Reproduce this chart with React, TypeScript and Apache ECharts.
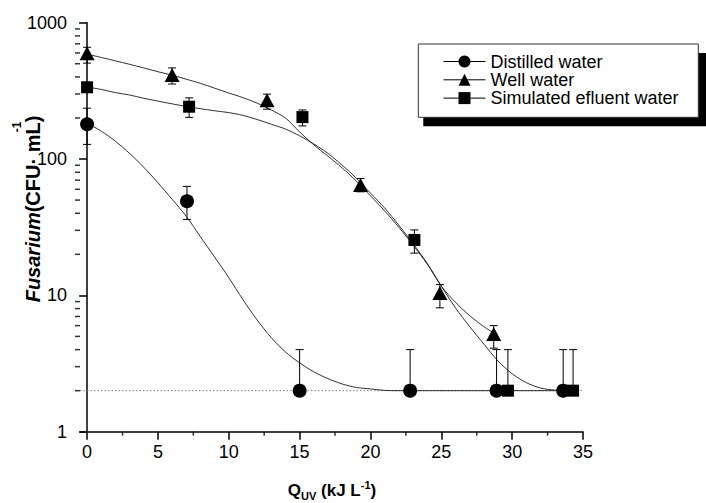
import React, { useEffect, useRef } from "react";
import * as echarts from "echarts";

// ---- measured points ----
const distilledX = [0, 7.05, 15, 22.8, 28.9, 33.6];
const distilledY = [180, 49, 2, 2, 2, 2];
const distilledLow = [128, 36, 2, 2, 2, 2];
const distilledHigh = [236, 63, 4, 4, 4, 4];

const wellX = [0, 6.0, 12.7, 19.3, 24.9, 28.7];
const wellY = [597, 414, 270, 64.6, 10.4, 5.2];
const wellLow = [505, 355, 232, 57.5, 8.1, 4.1];
const wellHigh = [660, 466, 299, 72, 12, 6.0];

const simX = [0, 7.2, 15.2, 23.1, 29.7, 34.3];
const simY = [336, 242, 203, 25.5, 2, 2];
const simLow = [318, 202, 175, 20.4, 2, 2];
const simHigh = [355, 281, 229, 30.2, 4, 4];

// ---- fitted curves ----
const distilledFitX = [0, 1, 2, 3, 4, 5, 6, 7, 8, 9, 10, 11, 12, 13, 14, 15, 16, 17, 18, 19, 20, 21, 22, 33.6];
const distilledFitY = [184, 160, 135, 110, 87, 67, 50.7, 38, 26.9, 19.1, 13.5, 9.3, 6.6, 4.9, 3.85, 3.2, 2.75, 2.45, 2.24, 2.11, 2.06, 2.01, 2.0, 2.0];

const wellFitX = [0, 1, 2, 3, 4, 5, 6, 7, 8, 9, 10, 11, 12, 13, 14, 15, 16, 17, 18, 19, 20, 21, 22, 23, 24, 25, 26, 27, 28, 28.7];
const wellFitY = [589, 556, 525, 495, 466, 437, 412, 385, 359, 331, 305, 282, 257, 229, 200, 158, 127, 105, 86, 69, 53.7, 41.7, 31.6, 23.4, 17, 11.7, 8.9, 7.1, 5.9, 5.3];

const simFitX = [0, 1, 2, 3, 4, 5, 6, 7, 8, 9, 10, 11, 12, 13, 14, 15, 16, 17, 18, 19, 20, 21, 22, 23, 24, 25, 26, 27, 28, 29, 30, 31, 32, 33, 34.3];
const simFitY = [337, 324, 307, 295, 279, 266, 254, 243, 234, 226, 219, 209, 195, 180, 166, 148, 129, 110, 90, 72.4, 56.2, 43.7, 32.7, 24.0, 17.2, 11.7, 8.1, 5.9, 4.4, 3.3, 2.66, 2.29, 2.09, 2.02, 2.0];

const detectionLimit = 2;
const detectionLimitX = [-0.5, 35];

// ---- axes ----
const xMin = -0.5;
const xMax = 35;
const xTicks = [0, 5, 10, 15, 20, 25, 30, 35];
const xMinorTicks = [2.5, 7.5, 12.5, 17.5, 22.5, 27.5, 32.5];
const yMin = 1;
const yMax = 1000;
const yMinorTicks = [2, 3, 4, 5, 6, 7, 8, 9, 20, 30, 40, 50, 60, 70, 80, 90, 200, 300, 400, 500, 600, 700, 800, 900];

const seriesNames = ["Distilled water", "Well water", "Simulated efluent water"];

const FONT = "'Liberation Sans', Arial, Helvetica, sans-serif";

function pairs(xs: number[], ys: number[]) {
  return xs.map((x, i) => [x, ys[i]]);
}

function markerSeries(name: string, xs: number[], ys: number[], symbol: string, size: any) {
  return {
    name,
    type: "line",
    data: pairs(xs, ys),
    symbol,
    symbolSize: size,
    itemStyle: { color: "#000", borderWidth: 0 },
    lineStyle: { width: 0, opacity: 0 },
    z: 5,
    silent: true,
  };
}

function fitSeries(xs: number[], ys: number[]) {
  return {
    type: "line",
    data: pairs(xs, ys),
    symbol: "none",
    smooth: 0.3,
    lineStyle: { color: "#1a1a1a", width: 0.9 },
    z: 2,
    silent: true,
  };
}

function errSeries(xs: number[], ys: number[], lo: number[], hi: number[]) {
  return {
    type: "custom",
    data: xs.map((x, i) => [x, ys[i], lo[i], hi[i]]),
    encode: { x: 0, y: [1, 2, 3] },
    z: 3,
    clip: false,
    silent: true,
    renderItem: (params: any, api: any) => {
      const x = api.value(0);
      const y = api.value(1);
      const l = api.value(2);
      const h = api.value(3);
      const top = api.coord([x, h]);
      const bot = api.coord([x, l]);
      const cap = 4;
      const st = { stroke: "#000", lineWidth: 1 };
      const children: any[] = [
        { type: "line", shape: { x1: top[0], y1: top[1], x2: bot[0], y2: bot[1] }, style: st },
        { type: "line", shape: { x1: top[0] - cap, y1: top[1], x2: top[0] + cap, y2: top[1] }, style: st },
      ];
      if (l < y) {
        children.push({ type: "line", shape: { x1: bot[0] - cap, y1: bot[1], x2: bot[0] + cap, y2: bot[1] }, style: st });
      }
      return { type: "group", children };
    },
  };
}

export default function App() {
  const ref = useRef<HTMLDivElement>(null);

  useEffect(() => {
    if (!ref.current) return;
    const chart = echarts.init(ref.current, undefined, { renderer: "svg" });

    const tickLine = { color: "#000", width: 1.5 };

    const option: any = {
      animation: false,
      backgroundColor: "#fff",
      textStyle: { fontFamily: FONT },
      grid: { left: 80, top: 22.7, width: 503, height: 409, containLabel: false },
      xAxis: {
        type: "value",
        min: xMin,
        max: xMax,
        axisLine: { onZero: false, lineStyle: tickLine },
        axisTick: { customValues: xTicks, length: 8, lineStyle: tickLine },
        axisLabel: { customValues: xTicks, fontSize: 18, color: "#000", margin: 11, fontFamily: FONT },
        splitLine: { show: false },
      },
      yAxis: {
        type: "log",
        logBase: 10,
        min: yMin,
        max: yMax,
        axisLine: { lineStyle: tickLine },
        axisTick: { length: 8, lineStyle: tickLine },
        axisLabel: {
          fontSize: 18,
          color: "#000",
          margin: 13,
          fontFamily: FONT,
          formatter: (v: number) => String(Math.round(v)),
        },
        splitLine: { show: false },
      },
      legend: {
        data: seriesNames,
        orient: "vertical",
        left: 443,
        top: 52.5,
        padding: 0,
        itemGap: 0.3,
        itemWidth: 42,
        itemHeight: 15,
        selectedMode: false,
        textStyle: { fontSize: 18, color: "#000", fontFamily: FONT, lineHeight: 18 },
        lineStyle: { color: "#000", width: 1, opacity: 1, type: "solid" },
        itemStyle: { color: "#000" },
        z: 10,
      },
      graphic: [
        {
          type: "rect",
          z: 8,
          shape: { x: 423.3, y: 53, width: 290, height: 73.3 },
          style: { fill: "#000" },
          silent: true,
        },
        {
          type: "rect",
          z: 9,
          shape: { x: 418.3, y: 44, width: 280, height: 73.3 },
          style: { fill: "#fff", stroke: "#333", lineWidth: 1 },
          silent: true,
        },
        {
          type: "text",
          z: 10,
          x: 33,
          y: 209,
          rotation: Math.PI / 2,
          style: {
            text: "{i|Fusarium}{b|(CFU· mL)}",
            align: "center",
            verticalAlign: "middle",
            fill: "#000",
            rich: {
              i: { fontSize: 20, fontWeight: "bold", fontStyle: "italic", fontFamily: FONT, fill: "#000" },
              b: { fontSize: 20, fontWeight: "bold", fontFamily: FONT, fill: "#000" },
            },
          },
          silent: true,
        },
        {
          type: "text",
          z: 10,
          x: 16.5,
          y: 127,
          rotation: Math.PI / 2,
          style: {
            text: "-1",
            align: "center",
            verticalAlign: "middle",
            fill: "#000",
            fontSize: 12,
            fontWeight: "bold",
            fontFamily: FONT,
          },
          silent: true,
        },
        {
          type: "text",
          z: 10,
          x: 332,
          y: 490,
          style: {
            text: "{b|Q}{sub|UV}{b| (kJ L}{sup|-1}{b|)}",
            align: "center",
            verticalAlign: "middle",
            fill: "#000",
            rich: {
              b: { fontSize: 17, fontWeight: "bold", fontFamily: FONT, fill: "#000" },
              sub: { fontSize: 11, fontWeight: "bold", fontFamily: FONT, fill: "#000", padding: [12, 0, 0, 0] },
              sup: { fontSize: 11, fontWeight: "bold", fontFamily: FONT, fill: "#000", padding: [0, 0, 10, 0] },
            },
          },
          silent: true,
        },
      ],
      series: [
        {
          type: "line",
          data: detectionLimitX.map((x) => [x, detectionLimit]),
          symbol: "none",
          lineStyle: { color: "#808080", width: 1, type: [1.5, 2] },
          z: 1,
          silent: true,
        },
        fitSeries(distilledFitX, distilledFitY),
        fitSeries(wellFitX, wellFitY),
        fitSeries(simFitX, simFitY),
        errSeries(distilledX, distilledY, distilledLow, distilledHigh),
        errSeries(wellX, wellY, wellLow, wellHigh),
        errSeries(simX, simY, simLow, simHigh),
        markerSeries(seriesNames[0], distilledX, distilledY, "circle", 14),
        markerSeries(seriesNames[1], wellX, wellY, "triangle", [15, 14]),
        markerSeries(seriesNames[2], simX, simY, "rect", 12),
        // minor ticks of the y axis (outward, 5 px)
        {
          type: "scatter",
          data: yMinorTicks.map((v) => [xMin, v]),
          symbol: "rect",
          symbolSize: [5, 1.5],
          symbolOffset: [-2.5, 0],
          itemStyle: { color: "#000" },
          clip: false,
          silent: true,
          z: 7,
        },
        // minor ticks of the x axis (outward, 4 px)
        {
          type: "scatter",
          data: xMinorTicks.map((v) => [v, yMin]),
          symbol: "rect",
          symbolSize: [1.5, 4],
          symbolOffset: [0, 2],
          itemStyle: { color: "#000" },
          clip: false,
          silent: true,
          z: 7,
        },
      ],
    };

    chart.setOption(option);
    return () => chart.dispose();
  }, []);

  return (
    <div
      ref={ref}
      style={{ position: "fixed", left: 0, top: 0, width: 706, height: 503, background: "#fff" }}
    />
  );
}
